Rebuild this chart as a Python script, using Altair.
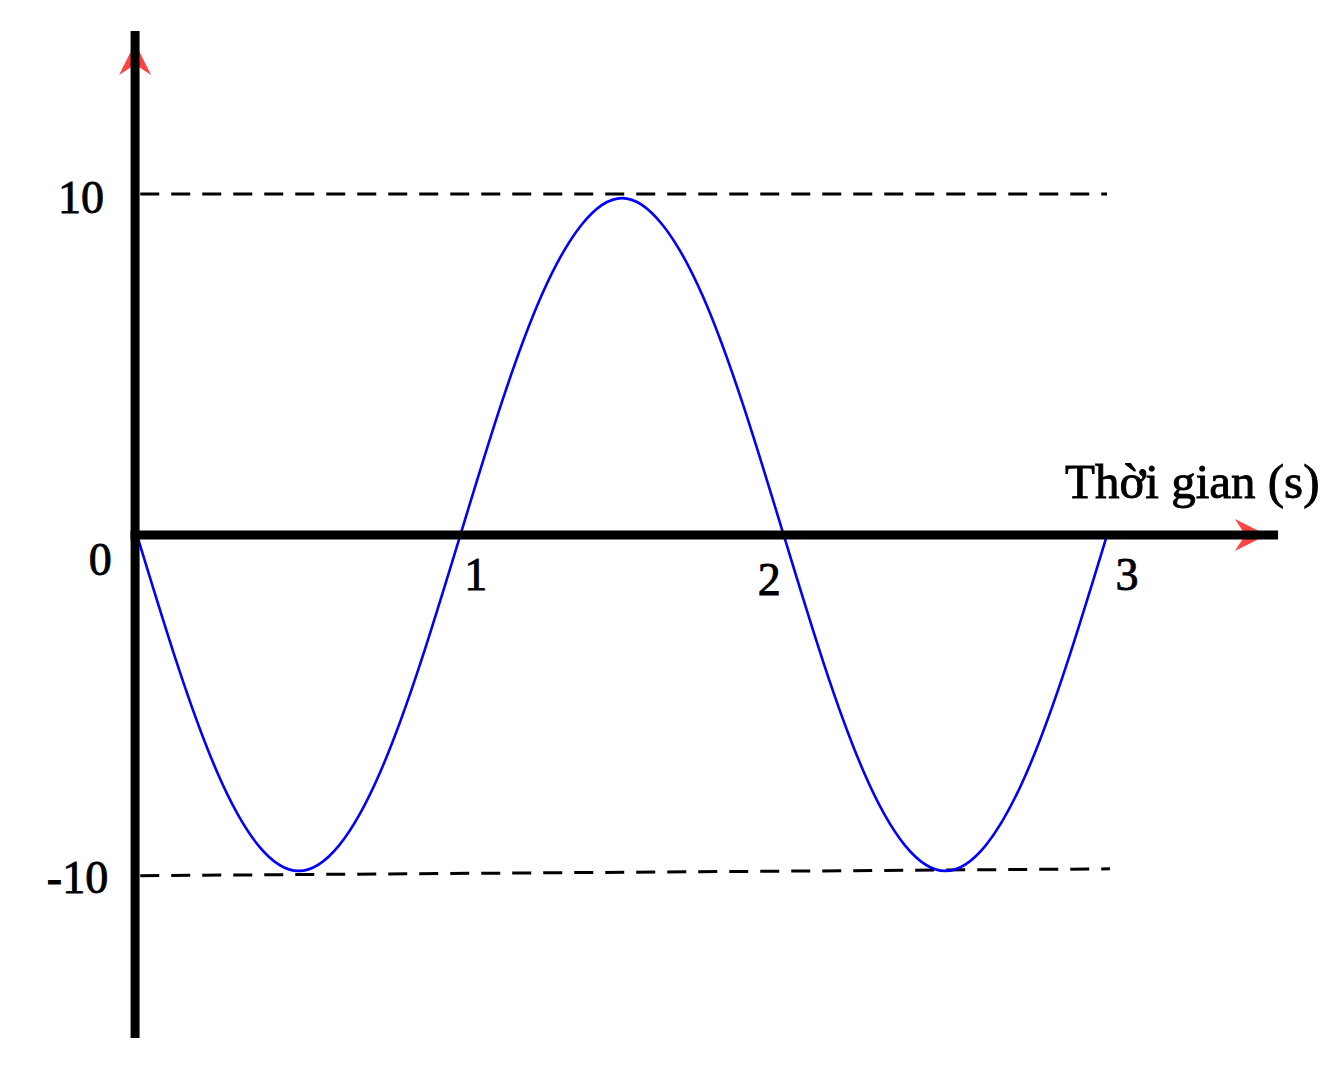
import altair as alt
import pandas as pd

# ---- data ----
t_vals = [0, 0.125, 0.25, 0.375, 0.5, 0.625, 0.75, 0.875, 1.0, 1.125, 1.25, 1.375, 1.5,
          1.625, 1.75, 1.875, 2.0, 2.125, 2.25, 2.375, 2.5, 2.625, 2.75, 2.875, 3.0]
y_vals = [0, -3.8, -7.0, -9.1, -9.85, -9.1, -7.0, -3.8, 0, 3.8, 7.0, 9.1, 9.88,
          9.1, 7.0, 3.8, 0, -3.8, -7.0, -9.1, -9.85, -9.1, -7.0, -3.8, 0]

# axis lines (data units)
axis_x1 = [-0.006, -0.02]
axis_x2 = [-0.006, 3.529]
axis_y1 = [14.78, 0]
axis_y2 = [-14.75, 0]

# dashed reference lines
ref_x1 = [0.01, 0.01]
ref_x2 = [3.0, 3.009]
ref_y1 = [10.0, -9.99]
ref_y2 = [10.0, -9.79]

# arrow heads
arrow_x = [-0.006, 3.445]
arrow_y = [13.96, 0]
arrow_dir = ["up", "right"]

# labels
label_text = ["10", "0", "-10", "1", "2", "3"]
label_x = [-0.173, -0.114, -0.184, 1.048, 1.955, 3.062]
label_y = [9.44, -1.17, -10.5, -1.61, -1.76, -1.61]
title_text = ["Thời gian (s)"]
title_x = [2.870]
title_y = [1.085]

W, H = 1326, 1054
xs = alt.Scale(domain=[-0.399, 3.702], nice=False, zero=False)
ys = alt.Scale(domain=[-15.454, 15.455], nice=False, zero=False)

curve_df = pd.DataFrame({"t": t_vals, "v": y_vals})
axis_df = pd.DataFrame({"x1": axis_x1, "x2": axis_x2, "y1": axis_y1, "y2": axis_y2})
ref_df = pd.DataFrame({"x1": ref_x1, "x2": ref_x2, "y1": ref_y1, "y2": ref_y2})
arrow_df = pd.DataFrame({"x": arrow_x, "y": arrow_y, "d": arrow_dir})
label_df = pd.DataFrame({"text": label_text, "x": label_x, "y": label_y})
title_df = pd.DataFrame({"text": title_text, "x": title_x, "y": title_y})

X = lambda f: alt.X(f, type="quantitative", scale=xs, axis=None)
Y = lambda f: alt.Y(f, type="quantitative", scale=ys, axis=None)

up = alt.Chart(arrow_df[arrow_df.d == "up"]).mark_point(
    shape="M0,-1 L1,1 L0,0.35 L-1,1 Z", size=1024, filled=True, fill="#FF4444",
    strokeWidth=0, opacity=1
).encode(x=X("x"), y=Y("y"))

right = alt.Chart(arrow_df[arrow_df.d == "right"]).mark_point(
    shape="M1,0 L-1,-1 L-0.35,0 L-1,1 Z", size=1024, filled=True, fill="#FF4444",
    strokeWidth=0, opacity=1
).encode(x=X("x"), y=Y("y"))

refs = alt.Chart(ref_df).mark_rule(
    color="black", strokeWidth=3, strokeDash=[19, 12]
).encode(x=X("x1"), x2="x2", y=Y("y1"), y2="y2")

curve = alt.Chart(curve_df).mark_line(
    color="#0000FF", strokeWidth=2.6, interpolate="natural"
).encode(x=X("t"), y=Y("v"))

axes = alt.Chart(axis_df).mark_rule(
    color="black", strokeWidth=9, strokeCap="butt"
).encode(x=X("x1"), x2="x2", y=Y("y1"), y2="y2")

labels = alt.Chart(label_df).mark_text(
    font="Liberation Serif", fontSize=46, color="black", align="center", baseline="alphabetic",
    stroke="black", strokeWidth=0.9
).encode(x=X("x"), y=Y("y"), text="text")

title = alt.Chart(title_df).mark_text(
    font="Liberation Serif", fontSize=49, color="black", align="left", baseline="alphabetic",
    stroke="black", strokeWidth=0.9
).encode(x=X("x"), y=Y("y"), text="text")

chart = alt.layer(up, right, refs, curve, axes, labels, title).properties(
    width=W, height=H, padding=0, autosize=alt.AutoSizeParams(type="none"),
    background="white"
).configure_view(stroke=None)

chart.save("out.html", embed_options={"renderer": "svg", "actions": False})
